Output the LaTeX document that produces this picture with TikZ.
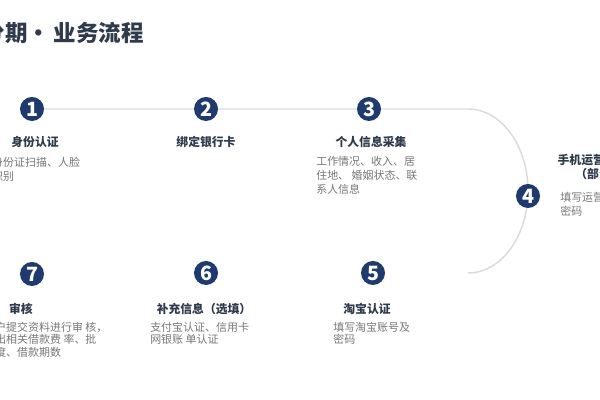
\documentclass[tikz,border=0pt]{standalone}
\usepackage{fontspec}
\setmainfont{Noto Sans CJK SC}
\usetikzlibrary{backgrounds}
\definecolor{stepblue}{HTML}{1F3A6E}
\definecolor{trackgray}{HTML}{D7DBE1}
\definecolor{titlegray}{HTML}{2F3B4C}
\definecolor{descgray}{HTML}{777777}

\tikzset{
  stepnum/.style={circle, fill=stepblue, text=white, minimum size=0.6cm, inner sep=0pt, font=\fontsize{14}{14}\selectfont\bfseries},
  steptitle/.style={text=titlegray, inner sep=0pt, font=\fontsize{8.4}{10}\selectfont\bfseries},
  stepdesc/.style={text=descgray, inner sep=0pt, align=left, anchor=north west, font=\fontsize{7.8}{10}\selectfont},
  stepdescb/.style={stepdesc, font=\fontsize{7.8}{8.8}\selectfont},
  track/.style={draw=trackgray, line width=1pt}
}

\def\sidearc{arc[start angle=90, end angle=-90, x radius=60, y radius=82]}

\begin{document}
\begin{tikzpicture}[x=0.025cm, y=0.025cm]
    \useasboundingbox (0,0) rectangle (600,400);
    \clip (0,0) rectangle (600,400);

    \node[anchor=east, text=titlegray, inner sep=0pt, font=\fontsize{16}{16}\selectfont\bfseries] (head) at (144,367) {分期\kern0em•\kern0.15em业务流程};

    \node[stepnum] (n1) at (32,291) {1};
    \node[stepnum] (n2) at (206,291) {2};
    \node[stepnum] (n3) at (369,291) {3};
    \node[stepnum] (n4) at (528,204) {4};
    \node[stepnum] (n5) at (373,127) {5};
    \node[stepnum] (n6) at (206,127) {6};
    \node[stepnum] (n7) at (32,126) {7};

    \coordinate (arctop) at (468,291);
    \begin{scope}[on background layer]
      \fill[white] (0,0) rectangle (600,400);
      \draw[track] (n1) -- (n2) -- (n3) -- (arctop) \sidearc coordinate (arcend);
    \end{scope}

    \node[steptitle] (t1) at (35,258) {身份认证};
    \node[steptitle] (t2) at (206,258) {绑定银行卡};
    \node[steptitle] (t3) at (371,258) {个人信息采集};
    \node[steptitle, align=center, font=\fontsize{8.4}{10}\selectfont\bfseries] (t4) at (599,233) {手机运营商认证\\（部分）};
    \node[steptitle] (t5) at (367,91) {淘宝认证};
    \node[steptitle] (t6) at (204,91) {补充信息（选填）};
    \node[steptitle, anchor=east] (t7) at (33,91) {审核};

    \node[stepdesc] (d1) at (-8,243) {身份证扫描、人脸\\识别};
    \node[stepdesc] (d3) at (316,244) {工作情况、收入、居\\住地、 婚姻状态、联\\系人信息};
    \node[stepdesc] (d4) at (560,208) {填写运营商账号及\\密码};
    \node[stepdescb] (d5) at (333,78) {填写淘宝账号及\\密码};
    \node[stepdescb] (d6) at (150,78) {支付宝认证、信用卡\\网银账 单认证};
    \node[stepdescb] (d7) at (-5,78) {户提交资料进行审 核，\\出相关借款费 率、批\\度、借款期数};

  \end{tikzpicture}
\end{document}
